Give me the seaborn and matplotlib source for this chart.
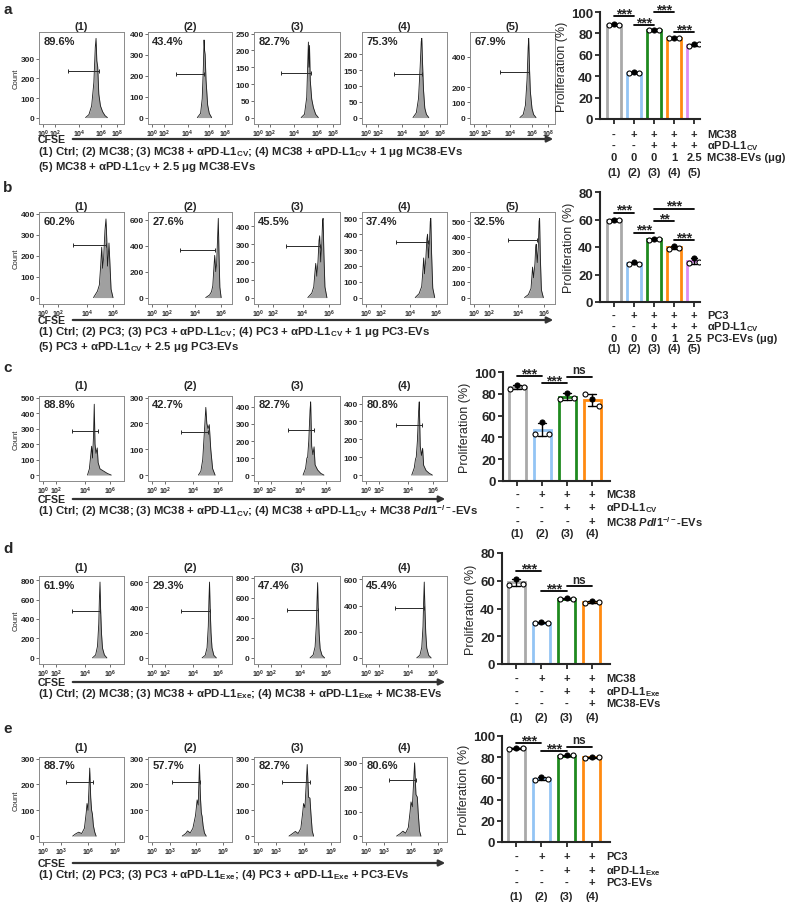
import numpy as np
import pandas as pd
import matplotlib
matplotlib.use("Agg")
import matplotlib.pyplot as plt
import matplotlib.transforms as mtrans
from matplotlib.patches import FancyArrowPatch
import seaborn as sns

sns.set_style("ticks")
plt.rcParams['font.family'] = ['Liberation Sans', 'DejaVu Sans']
plt.rcParams['font.weight'] = 'bold'
plt.rcParams['mathtext.fontset'] = 'custom'
plt.rcParams['mathtext.rm'] = 'Liberation Sans:bold'
plt.rcParams['mathtext.it'] = 'Liberation Sans:italic:bold'
plt.rcParams['mathtext.bf'] = 'Liberation Sans:bold'

# ---------------- data ----------------
# flow histograms: x = log10(CFSE), y = count
a_pct = ["89.6%", "43.4%", "82.7%", "75.3%", "67.9%"]
a_hx = [[4.6, 4.9, 5.15, 5.35, 5.48, 5.55, 5.62, 5.7, 5.8, 5.95, 6.2, 6.5, 6.8],
        [4.9, 5.2, 5.35, 5.45, 5.52, 5.57, 5.62, 5.7, 5.85, 6.0, 6.3],
        [4.6, 4.9, 5.1, 5.2, 5.25, 5.3, 5.35, 5.42, 5.55, 5.7, 5.9, 6.2],
        [5.0, 5.3, 5.5, 5.65, 5.75, 5.8, 5.87, 5.95, 6.1, 6.3, 6.6],
        [4.9, 5.2, 5.4, 5.55, 5.65, 5.7, 5.77, 5.85, 6.0, 6.2, 6.5]]
a_hy = [[0, 15, 60, 180, 360, 405, 290, 260, 120, 60, 30, 10, 0],
        [0, 20, 90, 230, 370, 320, 300, 180, 60, 20, 0],
        [0, 10, 60, 170, 225, 150, 215, 110, 55, 30, 10, 0],
        [0, 15, 60, 160, 240, 250, 170, 90, 30, 10, 0],
        [0, 20, 80, 250, 460, 520, 330, 170, 60, 20, 0]]
a_gate = [(3.1, 5.8, 240), (3.0, 5.55, 210), (2.9, 5.5, 133), (3.3, 5.85, 137), (3.2, 5.75, 300)]
a_yticks = [[0, 100, 200, 300], [0, 100, 200, 300, 400], [0, 50, 100, 150, 200, 250],
            [0, 50, 100, 150, 200], [0, 100, 200, 400]]

b_pct = ["60.2%", "27.6%", "45.5%", "37.4%", "32.5%"]
b_hx = [[4.5, 4.8, 4.95, 5.05, 5.13, 5.2, 5.28, 5.38, 5.46, 5.52, 5.58, 5.64, 5.69, 5.75, 5.85, 6.0],
        [4.8, 5.1, 5.25, 5.35, 5.45, 5.5, 5.58, 5.65, 5.72, 5.78, 5.83, 5.9, 6.0],
        [4.4, 4.7, 4.85, 4.95, 5.0, 5.08, 5.17, 5.25, 5.3, 5.38, 5.46, 5.52, 5.56, 5.62, 5.7, 5.85],
        [4.4, 4.7, 4.9, 5.0, 5.05, 5.12, 5.22, 5.3, 5.35, 5.42, 5.5, 5.56, 5.6, 5.66, 5.75, 5.9],
        [4.5, 4.8, 5.0, 5.08, 5.12, 5.2, 5.3, 5.36, 5.4, 5.48, 5.56, 5.62, 5.66, 5.72, 5.8, 5.95]]
b_hy = [[0, 30, 60, 150, 240, 140, 190, 320, 375, 280, 150, 200, 260, 180, 40, 0],
        [0, 20, 45, 90, 250, 325, 200, 260, 450, 610, 350, 80, 0],
        [0, 25, 60, 150, 192, 120, 200, 320, 347, 200, 300, 430, 445, 250, 60, 0],
        [0, 25, 70, 180, 250, 150, 250, 370, 400, 250, 350, 480, 500, 280, 60, 0],
        [0, 20, 60, 150, 200, 130, 220, 330, 350, 230, 330, 500, 520, 260, 50, 0]]
b_gate = [(3.05, 5.46, 250), (2.95, 5.5, 370), (2.9, 5.3, 288), (3.0, 5.35, 350), (3.3, 5.45, 380)]
b_yticks = [[0, 100, 200, 300, 400], [0, 200, 400, 600], [0, 100, 200, 300, 400],
            [0, 100, 200, 300, 400, 500], [0, 100, 200, 300, 400, 500]]

c_pct = ["88.8%", "42.7%", "82.7%", "80.8%"]
c_hx = [[4.2, 4.35, 4.45, 4.53, 4.6, 4.68, 4.74, 4.8, 4.88, 4.98, 5.05, 5.2, 5.5, 5.8, 6.1],
        [4.4, 4.6, 4.75, 4.9, 5.0, 5.08, 5.18, 5.28, 5.4, 5.55, 5.75],
        [4.2, 4.4, 4.5, 4.56, 4.65, 4.75, 4.8, 4.88, 4.98, 5.07, 5.15, 5.35, 5.6, 5.85],
        [4.3, 4.5, 4.6, 4.66, 4.75, 4.85, 4.9, 4.98, 5.08, 5.17, 5.25, 5.45, 5.7, 5.95]]
c_hy = [[0, 40, 120, 186, 110, 250, 457, 200, 140, 175, 80, 40, 25, 10, 0],
        [0, 15, 60, 180, 262, 200, 180, 195, 100, 25, 0],
        [0, 40, 100, 105, 200, 380, 430, 170, 120, 166, 60, 30, 10, 0],
        [0, 40, 90, 100, 190, 360, 410, 160, 110, 150, 55, 25, 10, 0]]
c_gate = [(3.13, 5.04, 286), (3.15, 5.14, 166), (3.12, 5.06, 264), (3.2, 5.15, 280)]
c_yticks = [[0, 100, 200, 300, 400, 500], [0, 100, 200, 300], [0, 100, 200, 300, 400],
            [0, 100, 200, 300, 400]]

d_pct = ["61.9%", "29.3%", "47.4%", "45.4%"]
d_hx = [[4.6, 4.85, 5.0, 5.1, 5.15, 5.2, 5.25, 5.32, 5.4, 5.55, 5.75],
        [4.7, 4.95, 5.1, 5.2, 5.25, 5.3, 5.35, 5.42, 5.5, 5.65, 5.85],
        [4.75, 5.0, 5.15, 5.25, 5.3, 5.35, 5.4, 5.47, 5.55, 5.7, 5.9],
        [4.7, 4.95, 5.1, 5.2, 5.25, 5.3, 5.35, 5.42, 5.5, 5.65, 5.85]]
d_hy = [[0, 30, 120, 350, 600, 780, 500, 250, 100, 30, 0],
        [0, 20, 80, 250, 450, 600, 400, 200, 80, 20, 0],
        [0, 30, 110, 330, 560, 750, 480, 240, 90, 25, 0],
        [0, 20, 80, 240, 430, 580, 390, 190, 75, 20, 0]]
d_gate = [(3.1, 5.2, 480), (3.1, 5.3, 370), (3.1, 5.35, 480), (3.1, 5.3, 380)]
d_yticks = [[0, 200, 400, 600, 800], [0, 200, 400, 600], [0, 200, 400, 600, 800], [0, 200, 400, 600]]

e_pct = ["88.7%", "57.7%", "82.7%", "80.6%"]
e_hx = [[4.3, 4.6, 4.96, 5.3, 5.6, 5.8, 5.89, 6.0, 6.1, 6.19, 6.3, 6.4, 6.49, 6.6, 6.75, 6.9],
        [4.4, 4.8, 5.0, 5.3, 5.6, 5.9, 6.08, 6.2, 6.34, 6.45, 6.55, 6.64, 6.75, 6.9, 7.1],
        [4.4, 4.8, 5.1, 5.4, 5.7, 5.9, 6.0, 6.15, 6.4, 6.55, 6.7, 6.8, 6.95, 7.1],
        [4.4, 4.8, 5.1, 5.4, 5.7, 5.9, 6.0, 6.15, 6.4, 6.55, 6.7, 6.8, 6.95, 7.1]]
e_hy = [[0, 8, 15, 10, 30, 90, 126, 100, 180, 263, 150, 100, 85, 40, 15, 0],
        [0, 10, 20, 12, 30, 80, 140, 120, 277, 150, 90, 76, 40, 12, 0],
        [0, 10, 18, 10, 30, 90, 126, 110, 277, 150, 147, 90, 20, 0],
        [0, 10, 20, 12, 35, 100, 140, 120, 300, 170, 160, 95, 20, 0]]
e_gate = [(3.5, 6.56, 208), (3.26, 6.38, 208), (3.68, 6.67, 208), (3.6, 6.6, 230)]
e_yticks = [[0, 100, 200, 300]] * 4

# proliferation (%) replicates
a_vals = [[87.6, 89.0, 88.2], [43.2, 43.6, 43.4], [82.8, 83.4, 83.6], [75.4, 75.8, 75.7], [68.0, 69.8, 70.0]]
b_vals = [[58.6, 60.0, 59.6], [27.6, 29.0, 27.8], [45.2, 45.6, 45.8], [38.6, 40.8, 39.6], [28.2, 32.0, 28.8]]
c_vals = [[84.5, 88.0, 86.5], [43.5, 54.0, 43.5], [75.5, 81.0, 76.0], [80.0, 75.0, 69.0]]
d_vals = [[57.0, 61.5, 58.0], [29.5, 30.5, 29.5], [47.0, 47.6, 47.0], [44.2, 45.2, 44.8]]
e_vals = [[87.5, 89.0, 88.5], [58.5, 61.5, 59.5], [81.0, 82.0, 81.8], [79.5, 80.5, 80.2]]

a_br = [(0, 1, 96, '***'), (1, 2, 88, '***'), (2, 3, 100, '***'), (3, 4, 81, '***')]
b_br = [(0, 1, 65, '***'), (1, 2, 50.5, '***'), (2, 3, 59, '**'), (2, 4, 68, '***'), (3, 4, 45, '***')]
c_br = [(0, 1, 96, '***'), (1, 2, 90, '***'), (2, 3, 95.5, 'ns')]
d_br = [(0, 1, 67, '***'), (1, 2, 52.3, '***'), (2, 3, 56, 'ns')]
e_br = [(0, 1, 93, '***'), (1, 2, 86, '***'), (2, 3, 90, 'ns')]

CV = r'$_{\mathrm{CV}}$'
EXE = r'$_{\mathrm{Exe}}$'
a_rows = [["-", "+", "+", "+", "+"], ["-", "-", "+", "+", "+"], ["0", "0", "0", "1", "2.5"],
          ["(1)", "(2)", "(3)", "(4)", "(5)"]]
a_rlab = ["MC38", "αPD-L1" + CV, "MC38-EVs (μg)"]
b_rows = a_rows
b_rlab = ["PC3", "αPD-L1" + CV, "PC3-EVs (μg)"]
c_rows = [["-", "+", "+", "+"], ["-", "-", "+", "+"], ["-", "-", "-", "+"], ["(1)", "(2)", "(3)", "(4)"]]
c_rlab = ["MC38", "αPD-L1" + CV, r"MC38 $\mathit{Pdl1}^{\mathrm{-/-}}$-EVs"]
d_rlab = ["MC38", "αPD-L1" + EXE, "MC38-EVs"]
e_rlab = ["PC3", "αPD-L1" + EXE, "PC3-EVs"]

a_desc = ["(1) Ctrl; (2) MC38; (3) MC38 + αPD-L1" + CV + "; (4) MC38 + αPD-L1" + CV + " + 1 μg MC38-EVs",
          "(5) MC38 + αPD-L1" + CV + " + 2.5 μg MC38-EVs"]
b_desc = ["(1) Ctrl; (2) PC3; (3) PC3 + αPD-L1" + CV + "; (4) PC3 + αPD-L1" + CV + " + 1 μg PC3-EVs",
          "(5) PC3 + αPD-L1" + CV + " + 2.5 μg PC3-EVs"]
c_desc = ["(1) Ctrl; (2) MC38; (3) MC38 + αPD-L1" + CV + "; (4) MC38 + αPD-L1" + CV +
          r" + MC38 $\mathit{Pdl1}^{\mathrm{-/-}}$-EVs"]
d_desc = ["(1) Ctrl; (2) MC38; (3) MC38 + αPD-L1" + EXE + "; (4) MC38 + αPD-L1" + EXE + " + MC38-EVs"]
e_desc = ["(1) Ctrl; (2) PC3; (3) PC3 + αPD-L1" + EXE + "; (4) PC3 + αPD-L1" + EXE + " + PC3-EVs"]

bar_colors = ["#a9a9a9", "#93c4f4", "#1f8a1f", "#ff8a10", "#de8cf2"]

# ---------------- layout (pixels) ----------------
W, H = 787, 903
fig = plt.figure(figsize=(W / 100, H / 100), dpi=100)


def add_ax(x0, y0, x1, y1):
    return fig.add_axes([x0 / W, 1 - y1 / H, (x1 - x0) / W, (y1 - y0) / H])


def ftext(x, y, s, **kw):
    fig.text(x / W, 1 - y / H, s, **kw)


hist_x = [(39, 124), (148, 232), (254, 340), (362, 447), (470, 555)]
# log10 knots -> pixel offset from the 10^0 tick (FlowJo-like display)
knots_a = ([-2, 0, 2, 4, 6, 8, 10], [-12, 0, 12, 36, 58, 74, 90])
knots_b = ([-2, 0, 2, 4, 6, 8], [-15, 0, 15, 44, 70, 96])
knots_c = ([-2, 0, 2, 4, 6, 8], [-13, 0, 13, 42, 67, 92])
knots_e = ([-3, 0, 3, 6, 9, 12], [-18, 0, 18, 45, 72, 99])


def draw_hist(ax, xs, ys, gate, pct, yticks, knots, ticks):
    lg, ps = np.asarray(knots[0], float), np.asarray(knots[1], float)
    fwd = lambda v: np.interp(v, lg, ps)
    inv = lambda p: np.interp(p, ps, lg)
    ax.set_xscale('function', functions=(fwd, inv))
    ax.fill_between(xs, ys, 0, color='#a0a0a0', lw=0)
    sns.lineplot(x=xs, y=ys, ax=ax, color='#1a1a1a', lw=0.6)
    g0, g1, gy = gate
    ax.plot([g0, g1], [gy, gy], color='#2a2a2a', lw=0.7, marker='|', ms=3, mew=0.7)
    ax.set_xlim(inv(-4), inv(81))
    top = max(max(ys) * 1.08, yticks[-1] * 1.02)
    ax.set_ylim(-0.075 * top, top)
    ax.set_yticks(yticks)
    ax.set_yticklabels([str(t) for t in yticks])
    ax.set_xticks(ticks)
    ax.set_xticklabels([r'$\mathrm{10^{%d}}$' % t for t in ticks])
    ax.tick_params(axis='x', labelsize=5, length=2, width=0.6, pad=0.5, color='#555555')
    ax.tick_params(axis='y', labelsize=6, length=2, width=0.6, pad=1, color='#555555')
    for sp in ax.spines.values():
        sp.set_color('#8a8a8a')
        sp.set_linewidth(0.7)
    ax.text(0.05, 0.96, pct, transform=ax.transAxes, ha='left', va='top', fontsize=8)


def hist_row(hx, hy, gates, pcts, yticks, knots, ticks, y0, y1, title_y, arrow_y, arrow_end, desc_y, descs):
    for i in range(len(hx)):
        x0, x1 = hist_x[i]
        ax = add_ax(x0, y0, x1, y1)
        draw_hist(ax, hx[i], hy[i], gates[i], pcts[i], yticks[i], knots, ticks)
        ftext((x0 + x1) / 2, title_y, "(%d)" % (i + 1), ha='center', va='center', fontsize=8)
        if i == 0:
            ax.set_ylabel("Count", fontsize=5.5, labelpad=1)
    ftext(38, arrow_y + 1, "CFSE", ha='left', va='center', fontsize=7.6)
    fig.add_artist(FancyArrowPatch((70 / W, 1 - (arrow_y + 1) / H), (arrow_end / W, 1 - (arrow_y + 1) / H),
                                   transform=fig.transFigure, arrowstyle='-|>', mutation_scale=9,
                                   lw=1.6, color='#333333'))
    for s, y in zip(descs, desc_y):
        ftext(38, y, s, ha='left', va='center', fontsize=8.2)


def draw_bars(box, vals, ymax, ystep, xlim, brackets, rows, rlabs, row_y, lab_x):
    x0, y0, x1, y1 = box
    ax = add_ax(x0, y0, x1, y1)
    n = len(vals)
    names = ["(%d)" % (g + 1) for g in range(n)]
    df = pd.DataFrame([(names[g], "r%d" % r, v) for g, row in enumerate(vals) for r, v in enumerate(row)],
                      columns=['group', 'rep', 'value'])
    sns.barplot(data=df, x='group', y='value', hue='group', order=names, hue_order=names,
                palette=bar_colors[:n], fill=False, errorbar='sd', capsize=0.3, width=0.68,
                linewidth=2.0, err_kws={'color': 'black', 'linewidth': 1.0}, legend=False, ax=ax)
    sns.stripplot(data=df, x='group', y='value', hue='rep', order=names, hue_order=['r0', 'r1', 'r2'],
                  palette=['white', 'black', 'white'], dodge=True, jitter=False, size=3.6,
                  edgecolor='black', linewidth=0.8, legend=False, ax=ax, zorder=4)
    ax.set_xlim(*xlim)
    ax.set_ylim(0, ymax)
    ax.set_yticks(np.arange(0, ymax + 1, ystep))
    ax.set_xticks(range(n))
    ax.set_xticklabels([])
    ax.set_xlabel('')
    ax.set_ylabel('Proliferation (%)', fontsize=9, labelpad=2)
    sns.despine(ax=ax)
    for sp in ['left', 'bottom']:
        ax.spines[sp].set_linewidth(1.5)
    ax.tick_params(labelsize=9.5, length=3.5, width=1.3, pad=1.5)
    for i, j, y, s in brackets:
        ax.plot([i, j], [y, y], color='black', lw=1.3, clip_on=False)
        star = '*' in s
        ax.annotate(s, xy=((i + j) / 2, y), xytext=(0, -3 if star else 0.5), textcoords='offset points',
                    ha='center', va='bottom', fontsize=10 if star else 8.5, annotation_clip=False)
    tr = mtrans.blended_transform_factory(ax.transData, fig.transFigure)
    for r, row in enumerate(rows):
        for g, s in enumerate(row):
            ax.text(g, 1 - row_y[r] / H, s, transform=tr, ha='center', va='center', fontsize=8)
    for r, s in enumerate(rlabs):
        ftext(lab_x, row_y[r], s, ha='left', va='center', fontsize=8)


def panel_letter(s, y):
    ftext(3, y, s, ha='left', va='center', fontsize=11)


# ---- a ----
panel_letter('a', 10)
hist_row(a_hx, a_hy, a_gate, a_pct, a_yticks, knots_a, [0, 2, 4, 6, 8], 33, 125, 27, 139, 556,
         [152, 167], a_desc)
draw_bars((600, 13, 700, 120), a_vals, 100, 20, (-0.7, 4.3), a_br, a_rows, a_rlab, [135, 146, 158, 173], 707)

# ---- b ----
panel_letter('b', 188)
hist_row(b_hx, b_hy, b_gate, b_pct, b_yticks, knots_b, [0, 2, 4, 6], 213, 305, 207, 320, 556,
         [332, 347], b_desc)
draw_bars((600, 193, 700, 303), b_vals, 80, 20, (-0.7, 4.3), b_br, b_rows, b_rlab, [316, 327, 339, 349], 707)

# ---- c ----
panel_letter('c', 368)
hist_row(c_hx, c_hy, c_gate, c_pct, c_yticks, knots_c, [0, 2, 4, 6], 397, 482, 386, 499, 448,
         [511], c_desc)
draw_bars((503, 373, 610, 482), c_vals, 100, 20, (-0.56, 3.72), c_br, c_rows, c_rlab, [495, 508, 522, 534], 606)

# ---- d ----
panel_letter('d', 549)
hist_row(d_hx, d_hy, d_gate, d_pct, d_yticks, knots_c, [0, 2, 4, 6], 577, 665, 568, 682, 448,
         [694], d_desc)
draw_bars((502, 554, 610, 665), d_vals, 80, 20, (-0.56, 3.72), d_br, c_rows, d_rlab, [679, 692, 704, 718], 606)

# ---- e ----
panel_letter('e', 729)
hist_row(e_hx, e_hy, e_gate, e_pct, e_yticks, knots_e, [0, 3, 6, 9], 758, 843, 748, 863, 448,
         [875], e_desc)
draw_bars((502, 737, 610, 843), e_vals, 100, 20, (-0.56, 3.72), e_br, c_rows, e_rlab, [857, 871, 883, 897], 606)

fig.savefig("out.png", dpi=100)
